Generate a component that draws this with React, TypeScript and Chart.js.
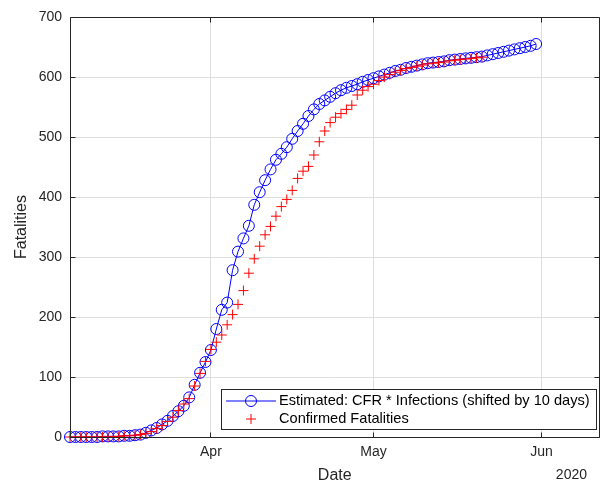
import React, { useEffect, useRef } from 'react';
import { Chart, registerables } from 'chart.js';

Chart.register(...registerables);

const FONT = '"Liberation Sans", Arial, Helvetica, sans-serif';
const AXIS_COLOR = '#262626';

// x values are days counted from 2020-03-01 (day 0); series start on Mar 6
const firstDay = 5;
const xMin = 5;
const xMax = 102.7;

// Estimated: CFR * Infections (shifted by 10 days), daily from Mar 6 to May 31
const estimated = [
  0, 0, 0, 0, 0, 0, 1, 1, 1, 1,
  2, 2, 3, 4, 7, 11, 15, 21, 27, 35,
  43, 52, 66, 87, 107, 125, 145, 180, 212, 224,
  278, 309, 331, 352, 387, 408, 428, 446, 462, 472,
  483, 497, 510, 522, 535, 546, 555, 561, 567, 573,
  578, 582, 585, 588, 592, 595, 598, 601, 604, 607,
  610, 612, 615, 617, 619, 621, 623, 624, 625, 626,
  628, 629, 630, 631, 632, 633, 634, 636, 638, 640,
  642, 644, 646, 648, 650, 652, 655,
];

// Confirmed Fatalities, daily from Mar 6 to May 21
const confirmed = [
  0, 0, 0, 0, 0, 0, 0, 0, 1, 1,
  2, 2, 3, 4, 6, 9, 14, 19, 26, 33,
  44, 55, 64, 85, 106, 126, 146, 158, 170, 187,
  204, 221, 244, 273, 297, 318, 337, 351, 368, 384,
  396, 411, 431, 443, 451, 470, 492, 510, 524, 533,
  539, 546, 553, 570, 578, 584, 588, 594, 600, 604,
  608, 611, 614, 616, 618, 620, 622, 623, 624, 625,
  627, 628, 629, 630, 631, 632, 633,
];

const monthTicks = [31, 61, 92];
const monthLabels = ['Apr', 'May', 'Jun'];
const yearLabel = '2020';
const yTicks = [0, 100, 200, 300, 400, 500, 600, 700];

const seriesNames = [
  'Estimated: CFR * Infections (shifted by 10 days)',
  'Confirmed Fatalities',
];

const align = (p: number) => Math.round(p - 0.5) + 0.5;

const framePlugin = {
  id: 'matlabFrame',
  afterDraw(chart: any) {
    const { ctx, chartArea: a, scales } = chart;
    const L = align(a.left);
    const R = align(a.right);
    const T = align(a.top);
    const B = align(a.bottom);
    ctx.save();
    ctx.strokeStyle = AXIS_COLOR;
    ctx.lineWidth = 1;
    ctx.beginPath();
    ctx.rect(L, T, R - L, B - T);
    // inner ticks
    yTicks.forEach((v) => {
      const y = align(scales.y.getPixelForValue(v));
      ctx.moveTo(L, y);
      ctx.lineTo(L + 5, y);
      ctx.moveTo(R, y);
      ctx.lineTo(R - 5, y);
    });
    monthTicks.forEach((v) => {
      const x = align(scales.x.getPixelForValue(v));
      ctx.moveTo(x, B);
      ctx.lineTo(x, B - 5);
      ctx.moveTo(x, T);
      ctx.lineTo(x, T + 5);
    });
    ctx.stroke();

    // legend
    const boxR = Math.round(a.right) - 4;
    const boxL = Math.round(a.left) + 151;
    const boxW = boxR - boxL;
    const boxB = Math.round(a.bottom) - 8;
    const boxT = boxB - 40;
    ctx.fillStyle = '#ffffff';
    ctx.fillRect(boxL + 0.5, boxT + 0.5, boxW, 40);
    ctx.strokeStyle = AXIS_COLOR;
    ctx.strokeRect(boxL + 0.5, boxT + 0.5, boxW, 40);

    const y1 = boxT + 12;
    const y2 = boxT + 30;
    const mx = boxL + 30;
    ctx.strokeStyle = '#0000ff';
    ctx.beginPath();
    ctx.moveTo(boxL + 5, y1);
    ctx.lineTo(boxL + 55, y1);
    ctx.stroke();
    ctx.beginPath();
    ctx.arc(mx, y1, 5.5, 0, Math.PI * 2);
    ctx.stroke();
    ctx.strokeStyle = '#ff0000';
    ctx.beginPath();
    ctx.moveTo(mx - 5, y2);
    ctx.lineTo(mx + 5, y2);
    ctx.moveTo(mx, y2 - 5);
    ctx.lineTo(mx, y2 + 5);
    ctx.stroke();

    ctx.font = `14.6px ${FONT}`;
    ctx.fillStyle = '#000000';
    ctx.textAlign = 'left';
    ctx.textBaseline = 'middle';
    ctx.fillText(seriesNames[0], boxL + 58, y1);
    ctx.fillText(seriesNames[1], boxL + 58, y2);

    // year label
    ctx.font = `14px ${FONT}`;
    ctx.fillStyle = AXIS_COLOR;
    ctx.textAlign = 'right';
    ctx.fillText(yearLabel, Math.round(a.right) - 13, 475);
    ctx.restore();
  },
};

export default function App() {
  const ref = useRef<HTMLCanvasElement | null>(null);

  useEffect(() => {
    document.body.style.margin = '0';
    const canvas = ref.current;
    if (!canvas) return;
    const estData = estimated.map((v, i) => ({ x: firstDay + i, y: v }));
    const confData = confirmed.map((v, i) => ({ x: firstDay + i, y: v }));

    const chart = new Chart(canvas, {
      type: 'line',
      data: {
        datasets: [
          {
            label: seriesNames[0],
            data: estData,
            borderColor: '#0000ff',
            borderWidth: 1,
            pointStyle: 'circle',
            pointRadius: 5.5,
            pointBackgroundColor: 'rgba(0,0,0,0)',
            pointBorderColor: '#0000ff',
            pointBorderWidth: 1,
            tension: 0,
            clip: false as any,
            order: 1,
          },
          {
            label: seriesNames[1],
            data: confData,
            showLine: false,
            borderColor: '#ff0000',
            pointStyle: 'cross',
            pointRadius: 5,
            pointBorderColor: '#ff0000',
            pointBorderWidth: 1,
            clip: false as any,
            order: 0,
          },
        ],
      },
      options: {
        animation: false,
        responsive: false,
        devicePixelRatio: 1,
        layout: { padding: { top: 17, right: 5, left: 0, bottom: 0 } },
        plugins: {
          legend: { display: false },
          tooltip: { enabled: false },
        },
        scales: {
          x: {
            type: 'linear',
            min: xMin,
            max: xMax,
            afterBuildTicks: (scale: any) => {
              scale.ticks = monthTicks.map((v) => ({ value: v }));
            },
            afterFit: (scale: any) => {
              scale.height = 47;
            },
            ticks: {
              callback: (_v: any, i: number) => monthLabels[i],
              font: { family: FONT, size: 14 },
              color: AXIS_COLOR,
              padding: 7,
              maxRotation: 0,
            },
            grid: { color: '#dfdfdf', drawTicks: false },
            border: { display: false },
            title: {
              display: true,
              text: 'Date',
              font: { family: FONT, size: 16, lineHeight: 1 },
              color: AXIS_COLOR,
              padding: 0,
            },
          },
          y: {
            type: 'linear',
            min: 0,
            max: 700,
            afterFit: (scale: any) => {
              scale.width = 70;
            },
            ticks: {
              stepSize: 100,
              font: { family: FONT, size: 14 },
              color: AXIS_COLOR,
              padding: 8,
            },
            grid: { color: '#dfdfdf', drawTicks: false },
            border: { display: false },
            title: {
              display: true,
              text: 'Fatalities',
              font: { family: FONT, size: 16, lineHeight: 1.2 },
              color: AXIS_COLOR,
              padding: { top: 12, bottom: 0 },
            },
          },
        },
      },
      plugins: [framePlugin],
    });
    return () => chart.destroy();
  }, []);

  return (
    <div style={{ width: 606, height: 484 }}>
      <canvas ref={ref} width={606} height={484} />
    </div>
  );
}
